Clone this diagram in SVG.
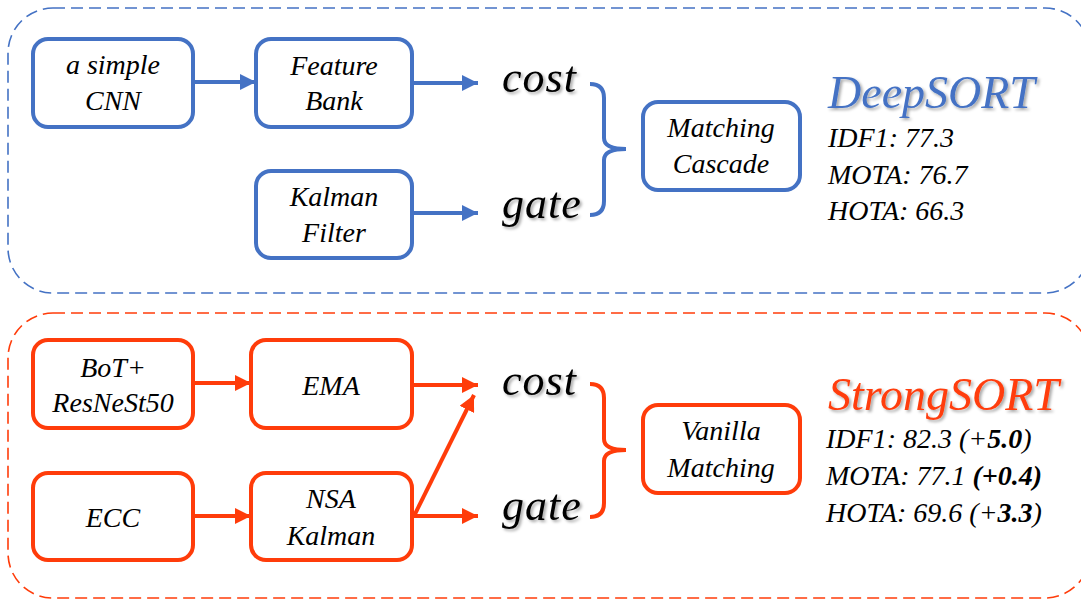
<svg xmlns="http://www.w3.org/2000/svg" width="1081" height="602" viewBox="0 0 1081 602">
<style>
.panel{fill:none;stroke-width:1.6;stroke-dasharray:12 6}
.box{fill:#fff;stroke-width:4}
.blue{stroke:#4472C4}
.red{stroke:#FF3C0A}
.t{font-family:"Liberation Serif","Times New Roman",serif;font-style:italic;fill:#000;text-anchor:middle;font-size:28px}
.big{font-family:"Liberation Serif","Times New Roman",serif;font-style:italic;fill:#000;font-size:44px}
.title{font-family:"Liberation Serif","Times New Roman",serif;font-style:italic;font-size:46px}
.stat{font-family:"Liberation Serif","Times New Roman",serif;font-style:italic;fill:#000;font-size:28px}
.conn{fill:none;stroke-width:4}
</style>
<defs>
<marker id="ab" markerUnits="userSpaceOnUse" markerWidth="17" markerHeight="16" refX="16" refY="8" orient="auto"><path d="M0,0 L16,8 L0,16 z" fill="#4472C4"/></marker>
<marker id="ar" markerUnits="userSpaceOnUse" markerWidth="17" markerHeight="16" refX="16" refY="8" orient="auto"><path d="M0,0 L16,8 L0,16 z" fill="#FF3C0A"/></marker>
<filter id="sh" x="-10%" y="-10%" width="130%" height="130%"><feDropShadow dx="2" dy="2" stdDeviation="1.5" flood-color="#000" flood-opacity="0.35"/></filter>
</defs>
<rect width="1081" height="602" fill="#fff"/>
<rect class="panel blue" x="8" y="8" width="1082" height="285" rx="45"/>
<rect class="panel red" x="8" y="313" width="1082" height="285" rx="45"/>

<g id="connectors">
<line class="conn blue" x1="193" y1="82" x2="256" y2="82" marker-end="url(#ab)"/>
<line class="conn blue" x1="412" y1="83" x2="478" y2="83" marker-end="url(#ab)"/>
<line class="conn blue" x1="412" y1="213" x2="478" y2="213" marker-end="url(#ab)"/>
<path class="conn blue" d="M590,84 Q604,84 604,98 L604,138 Q604,149 626,149 Q604,149 604,160 L604,201 Q604,215 590,215"/>
<line class="conn red" x1="193" y1="383" x2="251" y2="383" marker-end="url(#ar)"/>
<line class="conn red" x1="412" y1="385" x2="478" y2="385" marker-end="url(#ar)"/>
<line class="conn red" x1="193" y1="516" x2="251" y2="516" marker-end="url(#ar)"/>
<line class="conn red" x1="412" y1="516" x2="478" y2="516" marker-end="url(#ar)"/>
<line class="conn red" x1="414" y1="516" x2="474" y2="395" marker-end="url(#ar)"/>
<path class="conn red" d="M590,384 Q604,384 604,398 L604,439 Q604,450 626,450 Q604,450 604,461 L604,503 Q604,517 590,517"/>
</g>

<g id="cnn"><rect class="box blue" x="33" y="39" width="160" height="88" rx="15"/>
<text class="t" x="113" y="74">a simple</text><text class="t" x="113" y="110">CNN</text></g>
<g id="featurebank"><rect class="box blue" x="256" y="39" width="156" height="88" rx="15"/>
<text class="t" x="334" y="75">Feature</text><text class="t" x="334" y="110">Bank</text></g>
<g id="kalmanfilter"><rect class="box blue" x="256" y="171" width="156" height="87" rx="15"/>
<text class="t" x="334" y="206">Kalman</text><text class="t" x="334" y="242">Filter</text></g>
<g id="cost1"><text class="big" x="502" y="92" filter="url(#sh)" letter-spacing="1">cost</text></g>
<g id="gate1"><text class="big" x="502" y="218" filter="url(#sh)" letter-spacing="1">gate</text></g>
<g id="matchingcascade"><rect class="box blue" x="643" y="102" width="157" height="88" rx="15"/>
<text class="t" x="721" y="137">Matching</text><text class="t" x="721" y="173">Cascade</text></g>
<g id="deepsort">
<text class="title" x="828" y="108" fill="#4472C4" filter="url(#sh)">DeepSORT</text>
<text class="stat" x="828" y="147">IDF1: 77.3</text>
<text class="stat" x="828" y="184">MOTA: 76.7</text>
<text class="stat" x="828" y="220">HOTA: 66.3</text>
</g>

<g id="bot"><rect class="box red" x="33" y="340" width="160" height="88" rx="15"/>
<text class="t" x="113" y="377">BoT+</text><text class="t" x="113" y="412">ResNeSt50</text></g>
<g id="ema"><rect class="box red" x="251" y="340" width="161" height="88" rx="15"/>
<text class="t" x="331" y="395">EMA</text></g>
<g id="ecc"><rect class="box red" x="33" y="473" width="160" height="87" rx="15"/>
<text class="t" x="113" y="527">ECC</text></g>
<g id="nsakalman"><rect class="box red" x="251" y="473" width="161" height="87" rx="15"/>
<text class="t" x="331" y="508">NSA</text><text class="t" x="331" y="545">Kalman</text></g>
<g id="cost2"><text class="big" x="502" y="395" filter="url(#sh)" letter-spacing="1">cost</text></g>
<g id="gate2"><text class="big" x="502" y="520" filter="url(#sh)" letter-spacing="1">gate</text></g>
<g id="vanillamatching"><rect class="box red" x="643" y="405" width="157" height="88" rx="15"/>
<text class="t" x="721" y="440">Vanilla</text><text class="t" x="721" y="477">Matching</text></g>
<g id="strongsort">
<text class="title" x="828" y="410" fill="#FF3C0A" filter="url(#sh)">StrongSORT</text>
<text class="stat" x="826" y="448">IDF1: 82.3 (+<tspan font-weight="bold">5.0</tspan>)</text>
<text class="stat" x="826" y="485">MOTA: 77.1 <tspan font-weight="bold">(+0.4)</tspan></text>
<text class="stat" x="826" y="522">HOTA: 69.6 (+<tspan font-weight="bold">3.3</tspan>)</text>
</g>
</svg>
